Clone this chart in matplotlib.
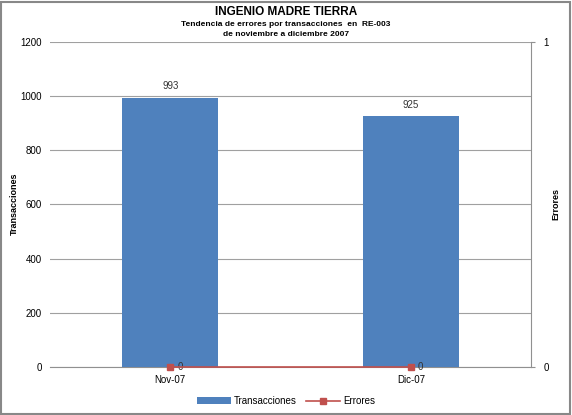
import matplotlib
matplotlib.use("Agg")
import matplotlib.pyplot as plt
from matplotlib.patches import Rectangle

# data
meses = ["Nov-07", "Dic-07"]
transacciones = [993, 925]
errores = [0, 0]
y_ticks = [0, 200, 400, 600, 800, 1000, 1200]

plt.rcParams['font.family'] = ['Liberation Sans Narrow', 'Liberation Sans', 'DejaVu Sans']

fig = plt.figure(figsize=(5.72, 4.15), dpi=100)
ax = fig.add_axes([50 / 572, 1 - 367 / 415, 481 / 572, 325 / 415])

x = list(range(len(meses)))
bars = ax.bar(x, transacciones, width=0.4, color="#4F81BD", zorder=3, label="Transacciones")
ax.set_xlim(-0.5, len(meses) - 0.5)
ax.set_ylim(0, 1200)
ax.set_yticks(y_ticks)
ax.set_xticks(x)
ax.set_xticklabels(meses)
ax.tick_params(axis="both", labelsize=7, length=0, pad=6)
ax.grid(axis="y", color="#A0A0A0", linewidth=0.8, zorder=0)
for s in ["top", "right", "left"]:
    ax.spines[s].set_visible(False)
ax.spines["bottom"].set_color("#909090")

for xi, v in zip(x, transacciones):
    ax.annotate(str(v), (xi, v), xytext=(0, 5), textcoords="offset points",
                ha="center", va="bottom", fontsize=7, color="#333333")

ax2 = ax.twinx()
line, = ax2.plot(x, errores, color="#C0504D", marker="s", markersize=5,
                 linewidth=1.2, zorder=4, label="Errores", clip_on=False)
ax2.set_ylim(0, 1)
ax2.set_yticks([0, 1])
ax2.tick_params(axis="y", labelsize=7, length=3, color="#909090", pad=6)
for s in ["top", "left", "bottom"]:
    ax2.spines[s].set_visible(False)
ax2.spines["right"].set_color("#909090")
for xi, v in zip(x, errores):
    ax2.annotate(str(v), (xi, v), xytext=(5, 0), textcoords="offset points",
                 ha="left", va="center", fontsize=7, color="#333333")

# axis titles placed like the original
fig.text(14 / 572, 1 - 204 / 415, "Transacciones", rotation=90, ha="center", va="center",
         fontsize=6.5, fontweight="bold")
fig.text(556 / 572, 1 - 204 / 415, "Errores", rotation=90, ha="center", va="center",
         fontsize=6.5, fontweight="bold")

fig.text(0.5, 1 - 12 / 415, "INGENIO MADRE TIERRA", ha="center", va="center",
         fontsize=8.5, fontweight="bold")
fig.text(0.5, 1 - 24 / 415, "Tendencia de errores por transacciones  en  RE-003",
         ha="center", va="center", fontsize=6, fontweight="bold")
fig.text(0.5, 1 - 34 / 415, "de noviembre a diciembre 2007", ha="center", va="center",
         fontsize=6, fontweight="bold")

fig.legend([bars, line], ["Transacciones", "Errores"], loc="center",
           bbox_to_anchor=(0.5, 1 - 401 / 415), ncol=2, frameon=False, fontsize=7,
           handlelength=3.5, handletextpad=0.3, columnspacing=1.0)

fig.patches.append(Rectangle((0.002, 0.003), 0.994, 0.993, transform=fig.transFigure,
                             fill=False, edgecolor="#888888", linewidth=1.5))

fig.savefig("out.png", dpi=100)
